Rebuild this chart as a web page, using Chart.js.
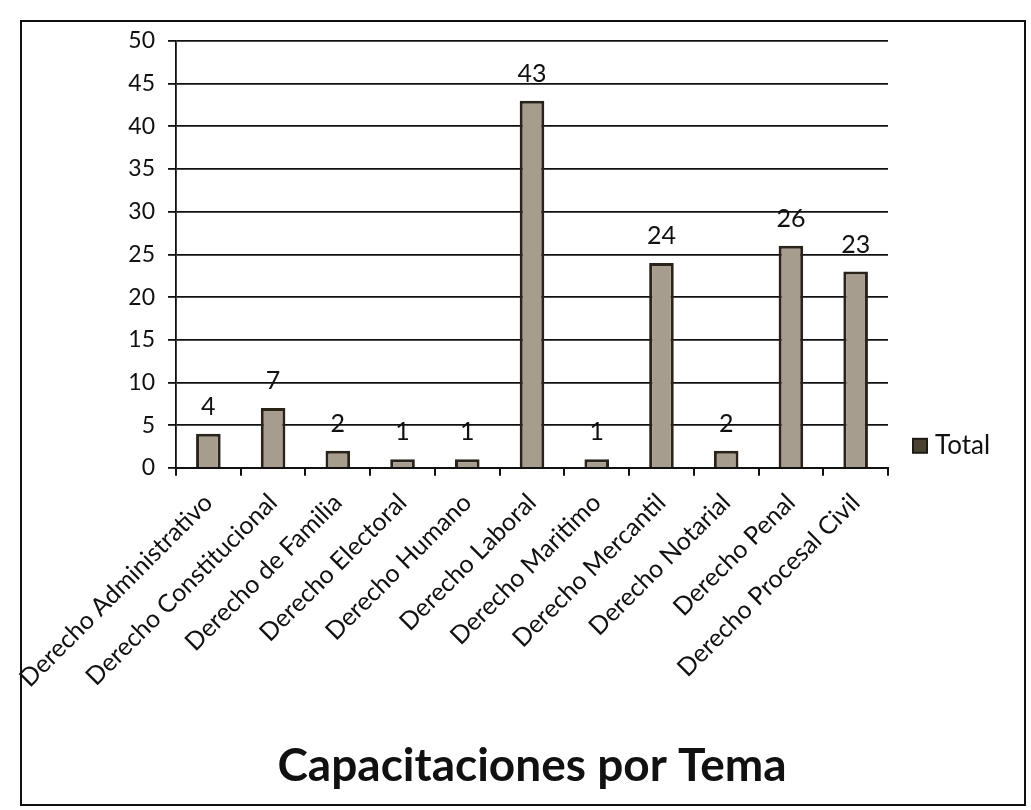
<!DOCTYPE html>
<html>
<head>
<meta charset="utf-8">
<title>Capacitaciones por Tema</title>
<script src="https://cdn.jsdelivr.net/npm/chart.js@4.4.0/dist/chart.umd.min.js"></script>
<style>
  body { margin: 0; background: #fff; }
  canvas { display: block; }
</style>
</head>
<body>
<canvas id="myChart" width="1031" height="810"></canvas>
<script>
// data
var categories = [
    'Derecho Administrativo',
    'Derecho Constitucional',
    'Derecho de Familia',
    'Derecho Electoral',
    'Derecho Humano',
    'Derecho Laboral',
    'Derecho Maritimo',
    'Derecho Mercantil',
    'Derecho Notarial',
    'Derecho Penal',
    'Derecho Procesal Civil'
];
var totals = [4, 7, 2, 1, 1, 43, 1, 24, 2, 26, 23];
var yTicks = [0, 5, 10, 15, 20, 25, 30, 35, 40, 45, 50];
var seriesName = 'Total';

var fontFamily = 'Lato, "Open Sans", sans-serif';

// numbers on top of the bars
var barValues = {
    id: 'barValues',
    afterDatasetsDraw: function(chart) {
        var ctx = chart.ctx;
        var meta = chart.getDatasetMeta(0);
        ctx.save();
        ctx.fillStyle = '#111';
        ctx.font = '25px ' + fontFamily;
        ctx.textAlign = 'center';
        ctx.textBaseline = 'middle';
        meta.data.forEach(function(bar, i) {
            ctx.fillText(totals[i], bar.x, bar.y - 27);
        });
        ctx.restore();
    }
};

// outer frame + the little legend on the right
var frame = {
    id: 'frame',
    beforeDraw: function(chart) {
        var ctx = chart.ctx;
        ctx.save();
        ctx.fillStyle = '#fff';
        ctx.fillRect(0, 0, chart.width, chart.height);
        ctx.strokeStyle = '#111';
        ctx.lineWidth = 2;
        ctx.strokeRect(21, 21, 1004, 784);
        ctx.restore();
    },
    afterDraw: function(chart) {
        var ctx = chart.ctx;
        var x = chart.chartArea.right + 25;
        var y = chart.chartArea.bottom - 22;
        ctx.save();
        ctx.fillStyle = '#4a4232';
        ctx.strokeStyle = '#1e1a14';
        ctx.lineWidth = 2;
        ctx.fillRect(x, y - 7, 14, 14);
        ctx.strokeRect(x, y - 7, 14, 14);
        ctx.fillStyle = '#111';
        ctx.font = '26px ' + fontFamily;
        ctx.textBaseline = 'middle';
        ctx.fillText(seriesName, x + 22, y);
        ctx.restore();
    }
};

var ctx = document.getElementById('myChart');
var myBarChart = new Chart(ctx, {
    type: 'bar',
    data: {
        labels: categories,
        datasets: [{
            label: seriesName,
            data: totals,
            backgroundColor: '#a69d8f',
            borderColor: '#2a231b',
            borderWidth: 3,
            borderSkipped: 'bottom',
            categoryPercentage: 1,
            barPercentage: 0.38
        }]
    },
    options: {
        responsive: false,
        animation: false,
        layout: { padding: { top: 41, left: 30, right: 143, bottom: 0 } },
        scales: {
            x: {
                grid: { drawOnChartArea: false, color: '#111', lineWidth: 2, tickLength: 8 },
                border: { color: '#111', width: 2 },
                ticks: {
                    color: '#111',
                    font: { family: fontFamily, size: 25 },
                    maxRotation: 45,
                    minRotation: 45,
                    padding: 12,
                    autoSkip: false
                },
                afterFit: function(scale) { scale.height = 271; }
            },
            y: {
                min: 0,
                max: 50,
                afterBuildTicks: function(scale) {
                    scale.ticks = yTicks.map(function(v) { return { value: v }; });
                },
                grid: { color: '#111', lineWidth: 1.8, tickLength: 8 },
                border: { color: '#111', width: 1.8 },
                ticks: {
                    color: '#111',
                    font: { family: fontFamily, size: 23 },
                    padding: 13
                },
                afterFit: function(scale) { scale.width = 146; }
            }
        },
        plugins: {
            legend: { display: false },
            title: {
                display: true,
                fullSize: false,
                position: 'bottom',
                text: 'Capacitaciones por Tema',
                color: '#111',
                font: { family: fontFamily, size: 46, weight: 'bold' },
                padding: { top: 0, bottom: 16 }
            },
            tooltip: { enabled: false }
        }
    },
    plugins: [frame, barValues]
});
</script>
</body>
</html>
